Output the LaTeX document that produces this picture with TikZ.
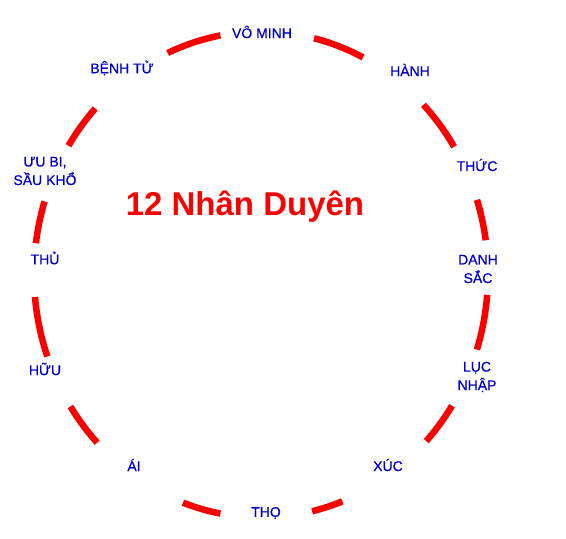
\documentclass[tikz,border=0pt]{standalone}
\usepackage{fontspec}
\setmainfont{Liberation Sans}
\newfontfamily\etapafont{Liberation Sans}[FakeBold=0.7]
\usetikzlibrary{positioning}
\definecolor{ringred}{RGB}{250,0,0}
\definecolor{labelblue}{RGB}{0,0,200}
\tikzstyle{etapa} = [
  text=labelblue,
  font=\etapafont\fontsize{14pt}{18.5pt}\selectfont,
  align=center,
  inner sep=1pt
]
\tikzstyle{titulo} = [
  text=ringred,
  font=\fontsize{33pt}{38pt}\selectfont\bfseries
]
\tikzstyle{anillo} = [ringred, line width=6.5pt, x radius=227pt, y radius=243pt]

\begin{document}
\begin{tikzpicture}
    \useasboundingbox (0,0) rectangle (566pt,539pt);
    \coordinate (ctr) at (261pt,264.5pt);

    % Titulo
    \node (titulo) [titulo] at (245pt,332pt) {12 Nhân Duyên};

    % Las doce etapas alrededor del anillo
    \node (vominh) [etapa] at (262pt,507pt) {VÔ MINH};
    \node (hanh) [etapa] at (410pt,469pt) {HÀNH};
    \node (thuc) [etapa] at (477pt,374pt) {THỨC};
    \node (danhsac) [etapa] at (478pt,270pt) {DANH\\SẮC};
    \node (lucnhap) [etapa] at (477pt,162pt) {LỤC\\NHẬP};
    \node (xuc) [etapa] at (388pt,74pt) {XÚC};
    \node (tho) [etapa] at (266pt,26pt) {THỌ};
    \node (ai) [etapa] at (134pt,74pt) {ÁI};
    \node (huu) [etapa] at (45pt,170pt) {HỮU};
    \node (thu) [etapa] at (45pt,281pt) {THỦ};
    \node (uubi) [etapa] at (45pt,368pt) {ƯU BI,\\SẦU KHỔ};
    \node (benhtu) [etapa] at (122pt,471pt) {BỆNH TỬ};

    % Arcos del anillo entre etapas
    \draw [anillo] ([shift={(76.5:227pt and 243pt)}]ctr) arc [start angle=76.5, end angle=63.3];
    \draw [anillo] ([shift={(44.3:227pt and 243pt)}]ctr) arc [start angle=44.3, end angle=31.7];
    \draw [anillo] ([shift={(17.9:227pt and 243pt)}]ctr) arc [start angle=17.9, end angle=8.1];
    \draw [anillo] ([shift={(-4.8:227pt and 243pt)}]ctr) arc [start angle=-4.8, end angle=-18];
    \draw [anillo] ([shift={(-32.7:227pt and 243pt)}]ctr) arc [start angle=-32.7, end angle=-43.3];
    \draw [anillo] ([shift={(-69:227pt and 243pt)}]ctr) arc [start angle=-69, end angle=-77];
    \draw [anillo] ([shift={(-100.3:227pt and 243pt)}]ctr) arc [start angle=-100.3, end angle=-110.1];
    \draw [anillo] ([shift={(-136.2:227pt and 243pt)}]ctr) arc [start angle=-136.2, end angle=-147.1];
    \draw [anillo] ([shift={(-160.3:227pt and 243pt)}]ctr) arc [start angle=-160.3, end angle=-174.7];
    \draw [anillo] ([shift={(172.6:227pt and 243pt)}]ctr) arc [start angle=172.6, end angle=162.5];
    \draw [anillo] ([shift={(148:227pt and 243pt)}]ctr) arc [start angle=148, end angle=136.9];
    \draw [anillo] ([shift={(114.3:227pt and 243pt)}]ctr) arc [start angle=114.3, end angle=100.3];

\end{tikzpicture}
\end{document}
